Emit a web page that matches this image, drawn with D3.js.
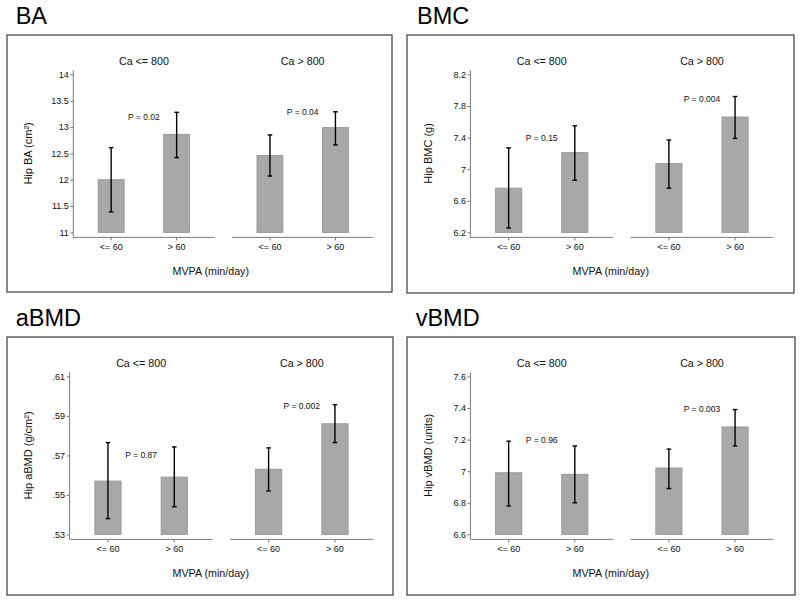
<!DOCTYPE html>
<html>
<head>
<meta charset="utf-8">
<script src="https://cdn.jsdelivr.net/npm/d3@7/dist/d3.min.js"></script>
<style>
  html, body { margin: 0; padding: 0; background: #fff; }
  svg { display: block; font-family: "Liberation Sans", Arial, Helvetica, sans-serif; }
</style>
</head>
<body>
<svg id="chart" width="800" height="602"></svg>
<script>
// ---------------- data ----------------
const panelNames = ["BA", "BMC", "aBMD", "vBMD"];
const yTitles = ["Hip BA (cm²)", "Hip BMC (g)", "Hip aBMD (g/cm²)", "Hip vBMD (units)"];
const caGroups = ["Ca <= 800", "Ca > 800"];
const mvpaGroups = ["<= 60", "> 60"];
const xTitle = "MVPA (min/day)";

// order: [Ca<=800 & MVPA<=60, Ca<=800 & MVPA>60, Ca>800 & MVPA<=60, Ca>800 & MVPA>60]
const baMean = [12.00, 12.86, 12.46, 12.99];
const baLow  = [11.39, 12.42, 12.07, 12.66];
const baHigh = [12.61, 13.28, 12.85, 13.29];

const bmcMean = [6.76, 7.21, 7.07, 7.66];
const bmcLow  = [6.255, 6.86, 6.76, 7.39];
const bmcHigh = [7.27, 7.55, 7.37, 7.92];

const abmdMean = [0.557, 0.559, 0.563, 0.586];
const abmdLow  = [0.538, 0.544, 0.552, 0.5765];
const abmdHigh = [0.5765, 0.5743, 0.5738, 0.5957];

const vbmdMean = [6.99, 6.98, 7.02, 7.28];
const vbmdLow  = [6.78, 6.80, 6.89, 7.16];
const vbmdHigh = [7.19, 7.16, 7.14, 7.39];

// P-value annotations (text and value level at which they sit)
const baP = ["P = 0.02", "P = 0.04"];     const baPAt = [13.19, 13.29];
const bmcP = ["P = 0.15", "P = 0.004"];   const bmcPAt = [7.40, 7.89];
const abmdP = ["P = 0.87", "P = 0.002"];  const abmdPAt = [0.570, 0.5948];
const vbmdP = ["P = 0.96", "P = 0.003"];  const vbmdPAt = [7.195, 7.396];

// y ticks and their labels
const baTicks = [11, 11.5, 12, 12.5, 13, 13.5, 14];
const baTickLabels = ["11", "11.5", "12", "12.5", "13", "13.5", "14"];
const bmcTicks = [6.2, 6.6, 7.0, 7.4, 7.8, 8.2];
const bmcTickLabels = ["6.2", "6.6", "7", "7.4", "7.8", "8.2"];
const abmdTicks = [0.53, 0.55, 0.57, 0.59, 0.61];
const abmdTickLabels = [".53", ".55", ".57", ".59", ".61"];
const vbmdTicks = [6.6, 6.8, 7.0, 7.2, 7.4, 7.6];
const vbmdTickLabels = ["6.6", "6.8", "7", "7.2", "7.4", "7.6"];

const panelData = [
  { mean: baMean, low: baLow, high: baHigh, p: baP, pAt: baPAt, ticks: baTicks, labels: baTickLabels },
  { mean: bmcMean, low: bmcLow, high: bmcHigh, p: bmcP, pAt: bmcPAt, ticks: bmcTicks, labels: bmcTickLabels },
  { mean: abmdMean, low: abmdLow, high: abmdHigh, p: abmdP, pAt: abmdPAt, ticks: abmdTicks, labels: abmdTickLabels },
  { mean: vbmdMean, low: vbmdLow, high: vbmdHigh, p: vbmdP, pAt: vbmdPAt, ticks: vbmdTicks, labels: vbmdTickLabels }
];

// ---------------- layout ----------------
const boxes = [
  { x: 7,   y: 35,  w: 385, h: 257, axisX: 66.3, titleX: 8.7 },
  { x: 407, y: 35,  w: 387, h: 258, axisX: 63.4, titleX: 10 },
  { x: 7,   y: 337, w: 386, h: 258, axisX: 62.6, titleX: 8.7 },
  { x: 407, y: 337, w: 388, h: 258, axisX: 63.4, titleX: 8.7 }
];
const plotRight = 366.3, facetGap = 17.6;
const yTop = 39.4, yBottom = 197.4, xAxisY = 202.4;

const svg = d3.select("#chart");
const barFill = "#a8a8a8", barStroke = "#9a9a9a", axisColor = "#7a7a7a";

boxes.forEach((b, i) => {
  const d = panelData[i];
  const g = svg.append("g").attr("transform", `translate(${b.x},${b.y})`);

  // panel title
  g.append("text").attr("x", b.titleX).attr("y", -11.3)
    .attr("font-size", 23.5).attr("fill", "#000").text(panelNames[i]);

  // frame
  g.append("rect").attr("x", 0).attr("y", 0).attr("width", b.w).attr("height", b.h)
    .attr("fill", "none").attr("stroke", "#3a3a3a").attr("stroke-width", 1.2);

  const y = d3.scaleLinear()
    .domain([d.ticks[0], d.ticks[d.ticks.length - 1]])
    .range([yBottom, yTop]);

  const facetW = (plotRight - b.axisX - facetGap) / 2;

  // y axis
  const yAxis = d3.axisLeft(y).tickValues(d.ticks)
    .tickFormat((v, k) => d.labels[k]).tickSize(3).tickPadding(1.5);
  const ya = g.append("g").attr("transform", `translate(${b.axisX},0)`).call(yAxis);
  ya.select(".domain").remove();
  ya.append("line").attr("x1", 0).attr("x2", 0).attr("y1", yTop - 4).attr("y2", xAxisY)
    .attr("stroke", axisColor).attr("stroke-width", 1);
  ya.selectAll(".tick line").attr("stroke", axisColor);
  ya.selectAll(".tick text").attr("font-size", 9).attr("fill", "#111")
    .attr("font-family", "'Liberation Sans', Arial, sans-serif");

  // y title
  g.append("text")
    .attr("transform", `translate(${20.5},${(yTop + yBottom) / 2}) rotate(-90)`)
    .attr("text-anchor", "middle").attr("dominant-baseline", "central")
    .attr("font-size", 11).attr("fill", "#111").text(yTitles[i]);

  caGroups.forEach((ca, f) => {
    const fx0 = b.axisX + f * (facetW + facetGap);
    const x = d3.scaleBand().domain(mvpaGroups)
      .range([fx0, fx0 + facetW]).paddingInner(0.59).paddingOuter(0.373);

    // facet title
    g.append("text").attr("x", fx0 + facetW / 2).attr("y", 30)
      .attr("text-anchor", "middle").attr("font-size", 10.7).attr("fill", "#111").text(ca);

    // x axis
    const xAxis = d3.axisBottom(x).tickSize(3).tickPadding(3);
    const xa = g.append("g").attr("transform", `translate(0,${xAxisY})`).call(xAxis);
    xa.select(".domain").remove();
    xa.append("line").attr("x1", fx0).attr("x2", fx0 + facetW).attr("y1", 0).attr("y2", 0)
      .attr("stroke", axisColor).attr("stroke-width", 1);
    xa.selectAll(".tick line").attr("stroke", axisColor);
    xa.selectAll(".tick text").attr("font-size", 9).attr("fill", "#111")
      .attr("font-family", "'Liberation Sans', Arial, sans-serif");

    const rows = mvpaGroups.map((m, k) => ({
      m, mean: d.mean[f * 2 + k], low: d.low[f * 2 + k], high: d.high[f * 2 + k]
    }));

    // bars
    g.selectAll(null).data(rows).enter().append("rect")
      .attr("x", r => x(r.m) + 0.5).attr("width", x.bandwidth() - 1)
      .attr("y", r => y(r.mean)).attr("height", r => y(d.ticks[0]) - y(r.mean))
      .attr("fill", barFill).attr("stroke", barStroke).attr("stroke-width", 1);

    // error bars
    const eb = g.selectAll(null).data(rows).enter().append("g")
      .attr("stroke", "#000").attr("stroke-width", 1.4);
    eb.append("line")
      .attr("x1", r => x(r.m) + x.bandwidth() / 2).attr("x2", r => x(r.m) + x.bandwidth() / 2)
      .attr("y1", r => y(r.low)).attr("y2", r => y(r.high));
    ["low", "high"].forEach(key => {
      eb.append("line")
        .attr("x1", r => x(r.m) + x.bandwidth() / 2 - 2.3)
        .attr("x2", r => x(r.m) + x.bandwidth() / 2 + 2.3)
        .attr("y1", r => y(r[key])).attr("y2", r => y(r[key]));
    });

    // P annotation
    g.append("text").attr("x", fx0 + facetW / 2).attr("y", y(d.pAt[f]))
      .attr("text-anchor", "middle").attr("dominant-baseline", "central")
      .attr("font-size", 8.5).attr("fill", "#111").text(d.p[f]);
  });

  // x title
  g.append("text").attr("x", 203.8).attr("y", 240)
    .attr("text-anchor", "middle").attr("font-size", 10.7).attr("fill", "#111").text(xTitle);
});
</script>
</body>
</html>
